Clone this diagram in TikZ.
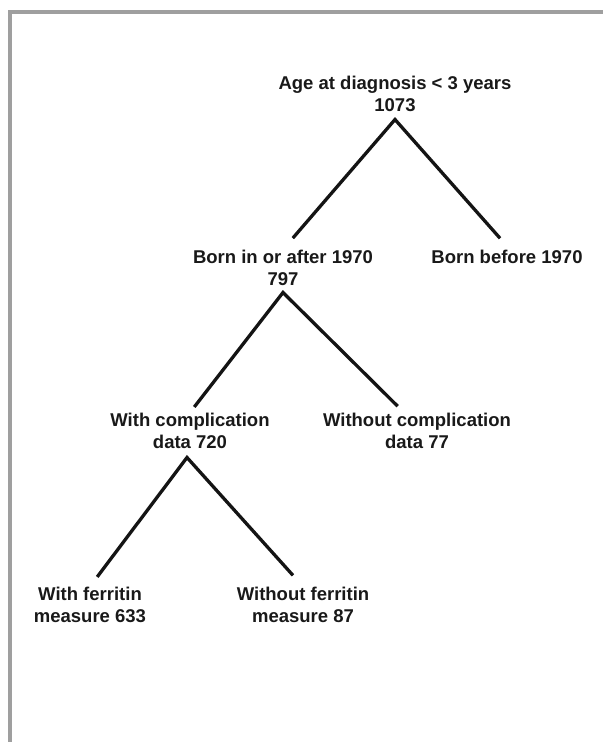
\documentclass[tikz,border=0pt]{standalone}
\usepackage{fontspec}
\setmainfont{Liberation Sans}
\usetikzlibrary{positioning}

\begin{document}
\begin{tikzpicture}[x=1pt,y=-1pt,
		every node/.style={font=\bfseries\fontsize{18.5}{22}\selectfont, align=center, inner sep=0pt, text=black!90},
		branch/.style={line width=3.3pt, black!92, line join=miter, shorten <=15pt, shorten >=15pt}]
		
		% Page size and grey frame
		\useasboundingbox (0,0) rectangle (603,742);
		\draw[line width=3.5pt, gray!75] (9.75,742) -- (9.75,11.75) -- (603,11.75);
		
		% Tree nodes
		\node (root)   at (395,93.5)  {Age at diagnosis < 3 years\\1073};
		\node (born)   at (283,267.5) {Born in or after 1970\\797};
		\node (before) at (507,256.5) {Born before 1970};
		\node (withc)  at (190,430.5) {With complication\\data 720};
		\node (woc)    at (417,430.5) {Without complication\\data 77};
		\node (withf)  at (90,604.5)  {With ferritin\\measure 633};
		\node (wof)    at (303,604.5) {Without ferritin\\measure 87};
		
		% Fork points under each parent
		\coordinate (rootfork)  at ([yshift=-8pt]root.south);
		\coordinate (bornfork)  at ([yshift=-7pt]born.south);
		\coordinate (withcfork) at ([xshift=-3pt,yshift=-9pt]withc.south);
		
		% Branches
		\draw[branch] (born.north) -- (rootfork) -- ([xshift=3pt]before.north);
		\draw[branch, shorten <=7pt, shorten >=9pt] (withc.north) -- (bornfork) -- ([xshift=-13pt]woc.north);
		\draw[branch, shorten <=12pt, shorten >=15pt] (withf.north) -- (withcfork) -- (wof.north);
		
	\end{tikzpicture}
\end{document}
